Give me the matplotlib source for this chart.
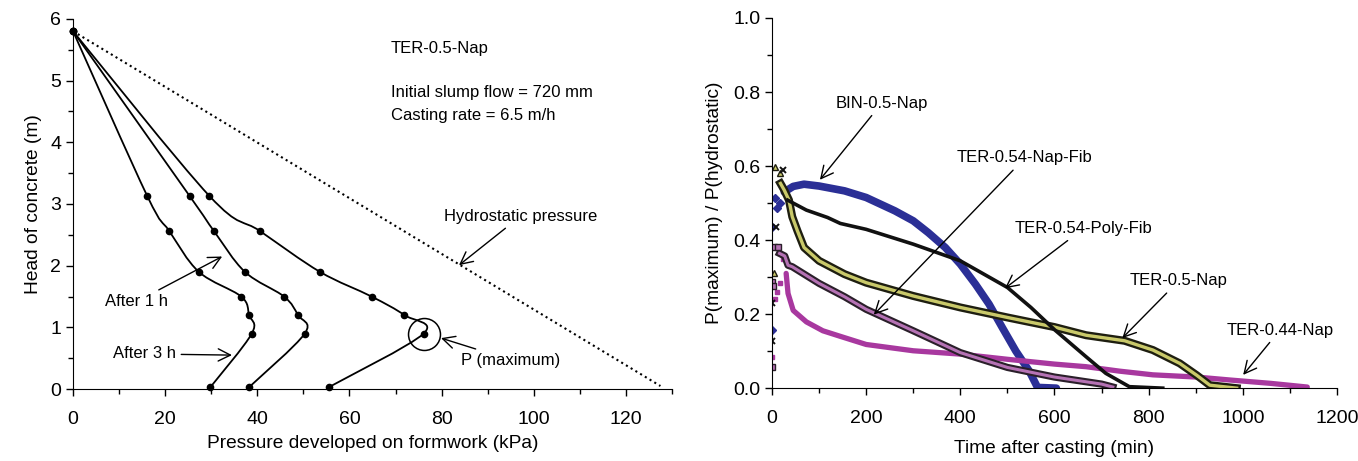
import numpy as np
import matplotlib
matplotlib.use("Agg")
import matplotlib.pyplot as plt
from matplotlib.path import Path
from matplotlib.patches import PathPatch
from matplotlib.ticker import MultipleLocator, FormatStrFormatter
import matplotlib.patheffects as pe

plt.rcParams['font.family'] = ['Liberation Sans', 'DejaVu Sans']

# ---- left panel: pressure profiles (TER-0.5-Nap) ----
head = [5.8, 3.13, 2.56, 1.90, 1.50, 1.20, 0.90, 0.03]
p_initial = [0, 29.6, 40.6, 53.6, 64.8, 71.9, 76.1, 55.5]
p_1h = [0, 25.3, 30.6, 37.3, 45.8, 48.8, 50.3, 38.2]
p_3h = [0, 16.1, 20.9, 27.3, 36.5, 38.2, 38.8, 29.8]
hydro_p = [0, 127.5]
hydro_h = [5.8, 0.05]

# ---- right panel: P(max)/P(hydro) vs time ----
# BIN-0.5-Nap
bin_t0 = [0, 1, 7, 10, 17]
bin_v0 = [0.157, 0.436, 0.513, 0.486, 0.50]
bin_t = [26, 45, 68, 100, 154, 200, 261, 300, 332, 368, 400, 432, 461, 489,
         518, 546, 564, 604]
bin_v = [0.53, 0.545, 0.551, 0.546, 0.533, 0.515, 0.479, 0.452, 0.42, 0.38,
         0.335, 0.281, 0.227, 0.164, 0.10, 0.047, 0.002, 0.0]
# TER-0.54-Poly-Fib
pf_t0 = [0, 0, 9, 23]
pf_v0 = [0.128, 0.23, 0.436, 0.59]
pf_t = [33, 73, 118, 145, 200, 300, 400, 500, 550, 600, 667, 709, 759, 830]
pf_v = [0.508, 0.481, 0.461, 0.445, 0.429, 0.389, 0.344, 0.272, 0.218,
        0.158, 0.085, 0.04, 0.004, 0.0]
# TER-0.5-Nap
tn_t0 = [5, 7, 16]
tn_v0 = [0.31, 0.598, 0.58]
tn_t = [18, 26, 36, 43, 54, 68, 100, 154, 200, 300, 400, 500, 600, 667, 749,
        809, 866, 902, 930, 987]
tn_v = [0.553, 0.535, 0.508, 0.463, 0.425, 0.38, 0.344, 0.308, 0.285, 0.249,
        0.218, 0.191, 0.165, 0.143, 0.128, 0.103, 0.067, 0.035, 0.008, 0.0]
# TER-0.54-Nap-Fib
nf_t0 = [0, 0, 2, 5, 12]
nf_v0 = [0.058, 0.287, 0.277, 0.382, 0.382]
nf_t = [16, 27, 34, 43, 100, 154, 200, 300, 400, 500, 600, 700, 724]
nf_v = [0.364, 0.357, 0.332, 0.328, 0.283, 0.247, 0.213, 0.155, 0.096,
        0.056, 0.030, 0.011, 0.003]
# TER-0.44-Nap
t44_t0 = [0, 7, 10, 16, 23]
t44_v0 = [0.085, 0.242, 0.26, 0.283, 0.35]
t44_t = [30, 34, 45, 73, 108, 145, 200, 300, 400, 500, 600, 667, 738, 809,
         902, 973, 1059, 1137]
t44_v = [0.31, 0.256, 0.21, 0.179, 0.155, 0.140, 0.118, 0.101, 0.092, 0.078,
         0.065, 0.058, 0.046, 0.036, 0.030, 0.022, 0.013, 0.003]


def smooth_path(x, y):
    # Catmull-Rom -> cubic bezier, drawn by matplotlib's Path
    pts = np.column_stack([x, y]).astype(float)
    verts = [pts[0]]
    codes = [Path.MOVETO]
    n = len(pts)
    for i in range(n - 1):
        p0 = pts[max(i - 1, 0)]
        p1 = pts[i]
        p2 = pts[i + 1]
        p3 = pts[min(i + 2, n - 1)]
        c1 = p1 + (p2 - p0) / 6.0
        c2 = p2 - (p3 - p1) / 6.0
        verts += [c1, c2, p2]
        codes += [Path.CURVE4] * 3
    return Path(verts, codes)


fig = plt.figure(figsize=(13.58, 4.61), dpi=100)
ax1 = fig.add_axes([0.0538, 0.156, 0.441, 0.803])
ax2 = fig.add_axes([0.5685, 0.158, 0.416, 0.803])

# ---- left ----
for px in (p_initial, p_1h, p_3h):
    ax1.add_patch(PathPatch(smooth_path(px, head), fill=False, lw=1.3,
                            color='black'))
    ax1.plot(px, head, 'o', color='black', ms=4.5, clip_on=False)
ax1.plot(hydro_p, hydro_h, ':', color='black', lw=1.5)

i_max = int(np.argmax(p_initial))
ax1.plot(p_initial[i_max], head[i_max], 'o', mfc='none', mec='black',
         ms=23, mew=1.1)

ax1.set_xlim(0, 130)
ax1.set_ylim(0, 6)
ax1.xaxis.set_major_locator(MultipleLocator(20))
ax1.xaxis.set_minor_locator(MultipleLocator(10))
ax1.yaxis.set_major_locator(MultipleLocator(1))
ax1.yaxis.set_minor_locator(MultipleLocator(0.5))
ax1.set_xlabel('Pressure developed on formwork (kPa)', fontsize=13.8,
               labelpad=5)
ax1.set_ylabel('Head of concrete (m)', fontsize=13.8, labelpad=6)

ax1.text(69, 5.52, 'TER-0.5-Nap', fontsize=12, va='center')
ax1.text(69, 4.80, 'Initial slump flow = 720 mm', fontsize=12, va='center')
ax1.text(69, 4.44, 'Casting rate = 6.5 m/h', fontsize=12, va='center')

arrow = dict(arrowstyle='->', color='black', lw=1.0, mutation_scale=22)
ax1.annotate('Hydrostatic pressure', xy=(83.3, 1.98), xytext=(80.5, 2.68),
             fontsize=12, arrowprops=arrow, va='bottom')
ax1.annotate('P (maximum)', xy=(79.3, 0.84), xytext=(84.3, 0.47),
             fontsize=12, arrowprops=arrow, va='center')
ax1.annotate('After 1 h', xy=(32.9, 2.17), xytext=(7, 1.42),
             fontsize=12, arrowprops=arrow, va='center')
ax1.annotate('After 3 h', xy=(35.1, 0.55), xytext=(8.6, 0.57),
             fontsize=12, arrowprops=arrow, va='center')

# ---- right ----
blue = '#2b2f96'
mag = '#a8389f'
olive = '#c9c96a'
pink = '#b572b4'

ax2.plot(bin_t, bin_v, '-', color=blue, lw=5.5, solid_capstyle='round')
ax2.plot(bin_t0, bin_v0, 'D', color=blue, ms=4, ls='none')

ax2.plot(t44_t, t44_v, '-', color=mag, lw=3.8, solid_capstyle='round')
ax2.plot(t44_t0, t44_v0, 's', color=mag, ms=3, ls='none')

ax2.plot(nf_t, nf_v, '-', color=pink, lw=2.2,
         path_effects=[pe.Stroke(linewidth=5.2, foreground='#2a1f2a'),
                       pe.Normal()])
ax2.plot(nf_t0, nf_v0, 's', mfc=pink, mec='#2a1f2a', ms=5, ls='none')

ax2.plot(tn_t, tn_v, '-', color=olive, lw=2.4,
         path_effects=[pe.Stroke(linewidth=5.8, foreground='#1e1e10'),
                       pe.Normal()])
ax2.plot(tn_t0, tn_v0, '^', mfc=olive, mec='#1e1e10', ms=5, ls='none')

ax2.plot(pf_t, pf_v, '-', color='#111111', lw=2.6)
ax2.plot(pf_t0, pf_v0, 'x', color='#111111', ms=4, mew=1.4, ls='none')

ax2.set_xlim(0, 1200)
ax2.set_ylim(0, 1.0)
ax2.xaxis.set_major_locator(MultipleLocator(200))
ax2.xaxis.set_minor_locator(MultipleLocator(100))
ax2.yaxis.set_major_locator(MultipleLocator(0.2))
ax2.yaxis.set_minor_locator(MultipleLocator(0.1))
ax2.yaxis.set_major_formatter(FormatStrFormatter('%.1f'))
ax2.set_xlabel('Time after casting (min)', fontsize=13.8, labelpad=9)
ax2.set_ylabel('P(maximum) / P(hydrostatic)', fontsize=13.8, labelpad=7)

ax2.annotate('BIN-0.5-Nap', xy=(98, 0.557), xytext=(135, 0.77),
             fontsize=12, arrowprops=arrow, va='center')
ax2.annotate('TER-0.54-Nap-Fib', xy=(212, 0.193), xytext=(393, 0.622),
             fontsize=12, arrowprops=arrow, va='center')
ax2.annotate('TER-0.54-Poly-Fib', xy=(490, 0.265), xytext=(515, 0.431),
             fontsize=12, arrowprops=arrow, va='center')
ax2.annotate('TER-0.5-Nap', xy=(740, 0.13), xytext=(760, 0.29),
             fontsize=12, arrowprops=arrow, va='center')
ax2.annotate('TER-0.44-Nap', xy=(997, 0.03), xytext=(965, 0.157),
             fontsize=12, arrowprops=arrow, va='center')

for ax in (ax1, ax2):
    ax.spines['top'].set_visible(False)
    ax.spines['right'].set_visible(False)
    ax.tick_params(which='major', length=5, width=1, labelsize=14,
                   direction='out')
    ax.tick_params(which='minor', length=3.5, width=1, direction='out')
    ax.tick_params(axis='x', pad=11)

fig.savefig('out.png', dpi=100)
